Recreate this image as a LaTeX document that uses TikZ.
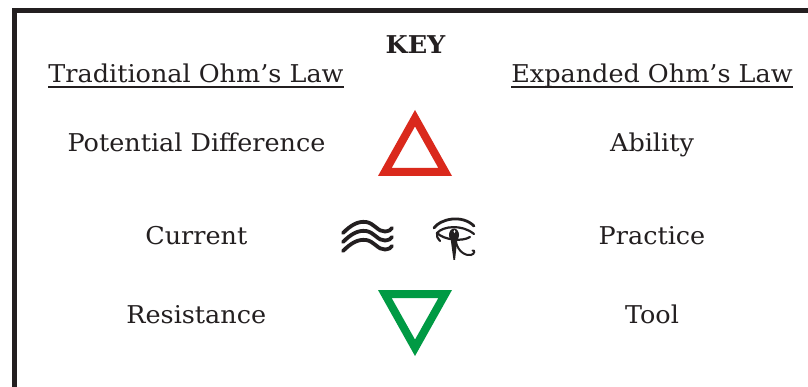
\documentclass[tikz,border=0pt]{standalone}
\usepackage{fontspec}
\setmainfont[FakeStretch=1.04]{DejaVu Serif}
\usepackage{xcolor}
\definecolor{ink}{HTML}{231F20}
\definecolor{tred}{HTML}{DA291C}
\definecolor{tgreen}{HTML}{009A44}
\begin{document}
\begin{tikzpicture}[x=1pt,y=-1pt,
  lbl/.style={anchor=base,inner sep=0pt,text=ink,font=\fontsize{24.5}{28}\selectfont},
  hdr/.style={lbl},
  wave/.style={draw=ink,line width=3.8pt,line cap=round},
  eyeline/.style={draw=ink,line width=2.2pt,line cap=round}]
\useasboundingbox (0,0) rectangle (808,387);
\fill[white] (0,0) rectangle (808,387);
% frame
\draw[ink,line width=5pt] (14.5,390) -- (14.5,10.5) -- (812,10.5);
% texts
\node[lbl,font=\fontsize{24.5}{28}\selectfont\bfseries] (key) at (415.5,53.5) {KEY};
\node[hdr] (trad) at (196,82.3) {Traditional Ohm’s Law};
\node[hdr] (exp) at (652,82.3) {Expanded Ohm’s Law};
\draw[ink,line width=1.5pt] (trad.west |- 0,87) -- (trad.east |- 0,87);
\draw[ink,line width=1.5pt] (exp.west |- 0,87) -- (exp.east |- 0,87);
\node[lbl] (pd) at (196.5,151.7) {Potential Difference};
\node[lbl] (cur) at (196.3,245) {Current};
\node[lbl] (res) at (196.3,323.3) {Resistance};
\node[lbl] (abi) at (652,151.7) {Ability};
\node[lbl] (pra) at (652,245) {Practice};
\node[lbl] (tool) at (652,323.3) {Tool};
% red triangle
\fill[tred,even odd rule] (415,110) -- (452,176) -- (378,176) -- cycle
  (415,126.4) -- (438.35,168) -- (391.65,168) -- cycle;
% green triangle
\fill[tgreen,even odd rule] (415,356) -- (452,290) -- (378,290) -- cycle
  (415,339.6) -- (438.35,298) -- (391.65,298) -- cycle;
% waves
\foreach \y in {222,231,240}{
  \draw[wave] (343,\y+11) .. controls (351,\y+3) and (358,\y-1) .. (366,\y)
     .. controls (374,\y+1) and (378,\y+10) .. (385,\y+9.5)
     .. controls (389,\y+9) and (391,\y+8) .. (392,\y+6);
}
% eye of Horus
\draw[eyeline,line width=2.8pt] (434,228) .. controls (440,219) and (462,214) .. (474,226);
\draw[eyeline] (437,233) .. controls (443,226) and (462,224) .. (474,234);
\draw[eyeline] (437,233) .. controls (444,240) and (462,242) .. (470,237);
\draw[eyeline] (437,233) .. controls (436,236) and (438,239) .. (440,241);
\fill[ink] (454,235) ellipse [x radius=5pt,y radius=6.5pt];
\fill[ink] (450.5,238) -- (457.5,238) -- (455,260) -- (453.5,260) -- cycle;
\fill[white] (454.5,231.5) ellipse [x radius=0.9pt,y radius=1.6pt];
\draw[eyeline,line width=2pt] (456,242) .. controls (458,252) and (466,256) .. (471,255)
   .. controls (475,254) and (475,250) .. (472.5,250.5);
\end{tikzpicture}
\end{document}
